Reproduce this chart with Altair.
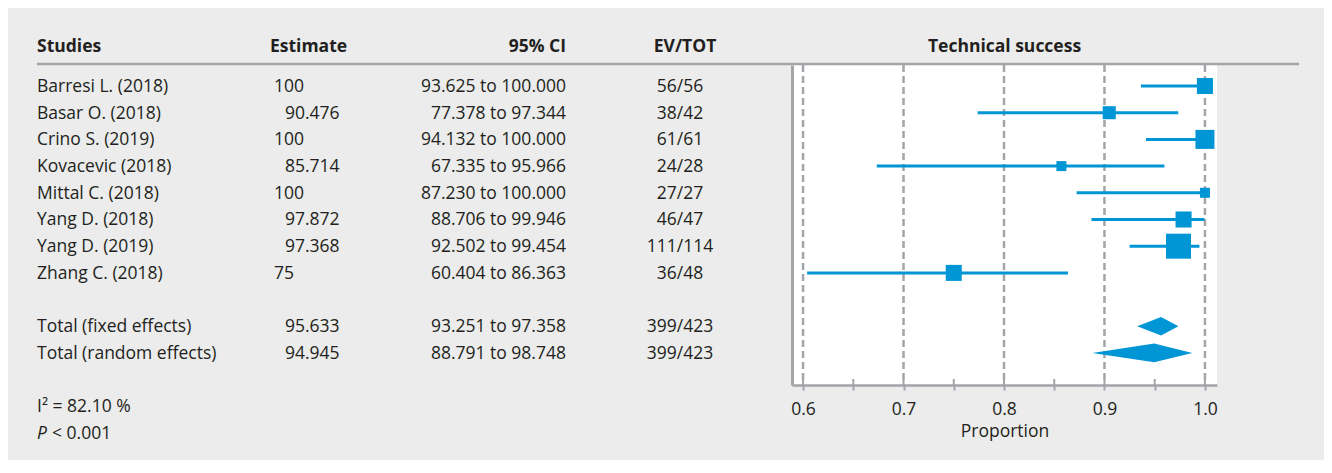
import altair as alt
import pandas as pd

# ---------------- data ----------------
studies = ["Barresi L. (2018)", "Basar O. (2018)", "Crino S. (2019)", "Kovacevic (2018)",
           "Mittal C. (2018)", "Yang D. (2018)", "Yang D. (2019)", "Zhang C. (2018)"]
estimate = [100, 90.476, 100, 85.714, 100, 97.872, 97.368, 75]
ci_low = [93.625, 77.378, 94.132, 67.335, 87.230, 88.706, 92.502, 60.404]
ci_high = [100.000, 97.344, 100.000, 95.966, 100.000, 99.946, 99.454, 86.363]
events = [56, 38, 61, 24, 27, 46, 111, 36]
totals = [56, 42, 61, 28, 27, 47, 114, 48]
weights = [12.1, 8.0, 17.0, 4.7, 4.7, 12.1, 29.4, 12.1]   # relative marker weights (%)

pooled_labels = ["Total (fixed effects)", "Total (random effects)"]
pooled_estimate = [95.633, 94.945]
pooled_low = [93.251, 88.791]
pooled_high = [97.358, 98.748]
pooled_events = [399, 399]
pooled_total = [423, 423]

heterogeneity = "I² = 82.10 %"
p_symbol = "P"
p_value = "< 0.001"

headers = ["Studies", "Estimate", "95% CI", "EV/TOT"]
plot_title = "Technical success"
axis_title = "Proportion"
grid_values = [0.6, 0.7, 0.8, 0.9, 1.0]
tick_values = [0.6, 0.65, 0.7, 0.75, 0.8, 0.85, 0.9, 0.95, 1.0]

# ---------------- styles ----------------
FONT = "Open Sans"
FS = 17.5
TXT = "#231f20"
BLUE = "#0096d6"
GRAY = "#a3a5a8"
BG = "#ebeceb"
DIAMOND_HALF = 0.35  # half height of the pooled diamonds, in row units

def fmt_est(v):
    return str(int(v)) if float(v).is_integer() else f"{v:.3f}"

n = len(studies)
study_rows = list(range(n))
pooled_rows = [n + 1 + i for i in range(len(pooled_labels))]
stat_rows = [pooled_rows[-1] + 2, pooled_rows[-1] + 3]

all_est = estimate + pooled_estimate
table = pd.DataFrame({
    "name": studies + pooled_labels,
    "est": [fmt_est(v) for v in all_est],
    "is_int": [float(v).is_integer() for v in all_est],
    "ci": [f"{lo:.3f} to {hi:.3f}" for lo, hi in zip(ci_low + pooled_low, ci_high + pooled_high)],
    "evtot": [f"{e}/{t}" for e, t in zip(events + pooled_events, totals + pooled_total)],
    "row": study_rows + pooled_rows,
})

study_df = pd.DataFrame({
    "est": [v / 100 for v in estimate],
    "lo": [v / 100 for v in ci_low],
    "hi": [v / 100 for v in ci_high],
    "w": weights,
    "row": study_rows,
})

dia = []
for lab, r, e, lo, hi in zip(pooled_labels, pooled_rows, pooled_estimate, pooled_low, pooled_high):
    dia.append({"grp": lab, "x": lo / 100, "y1": r, "y2": r})
    dia.append({"grp": lab, "x": e / 100, "y1": r - DIAMOND_HALF, "y2": r + DIAMOND_HALF})
    dia.append({"grp": lab, "x": hi / 100, "y1": r, "y2": r})
dia_df = pd.DataFrame(dia)

stats_df = pd.DataFrame({"t": [heterogeneity], "row": [stat_rows[0]]})
p_df = pd.DataFrame({"a": [p_symbol], "b": [p_value], "row": [stat_rows[1]]})

# ---------------- scales / axes ----------------
W, H = 425, 320
xscale = alt.Scale(domain=[0.589, 1.012], nice=False, zero=False)
yscale = alt.Scale(domain=[-0.787, 11.2], nice=False, zero=False, reverse=True)
xaxis = alt.Axis(
    values=tick_values,
    labelExpr="abs(datum.value*10 - round(datum.value*10)) < 0.01 ? format(datum.value, '.1f') : ''",
    tickSize=5, tickWidth=2, tickColor=GRAY,
    domainColor=GRAY, domainWidth=2.5,
    labelFont=FONT, labelFontSize=FS, labelColor=TXT, labelPadding=10, labelFlush=False,
    title=axis_title, titleFont=FONT, titleFontSize=FS, titleFontWeight="normal",
    titleColor=TXT, titlePadding=5, grid=False,
)
yaxis = alt.Axis(domain=True, domainColor=GRAY, domainWidth=3, ticks=False,
                 labels=False, grid=False, title=None)

def X(field):
    return alt.X(field, type="quantitative", scale=xscale, axis=xaxis)

def Y(field):
    return alt.Y(field, type="quantitative", scale=yscale, axis=yaxis)

one = alt.Data(values=[{"k": 1}])

# ---------------- layers ----------------
grid = alt.Chart(pd.DataFrame({"v": grid_values})).mark_rule(
    color=GRAY, strokeWidth=2.5, strokeDash=[7, 4]
).encode(x=X("v"))

inner_ticks = alt.Chart(pd.DataFrame({"v": tick_values})).mark_rule(
    color=GRAY, strokeWidth=2
).encode(x=X("v"), y=alt.value(H - 6), y2=alt.value(H))

header_line = alt.Chart(one).mark_rule(color=GRAY, strokeWidth=2.5).encode(
    x=alt.value(-755), x2=alt.value(507), y=alt.value(-1)
)

ci_rules = alt.Chart(study_df).mark_rule(color=BLUE, strokeWidth=3).encode(
    x=X("lo"), x2="hi", y=Y("row")
)

squares = alt.Chart(study_df).mark_square(color=BLUE, opacity=1, filled=True).encode(
    x=X("est"), y=Y("row"),
    size=alt.Size("w:Q", scale=alt.Scale(domain=[0, 29.4], range=[0, 625]), legend=None),
)

diamonds = alt.Chart(dia_df).mark_area(color=BLUE, opacity=1, interpolate="linear").encode(
    x=X("x"), y=Y("y1"), y2="y2", detail="grp:N"
)

def col_text(field, xpx, align, data=table, **kw):
    return alt.Chart(data).mark_text(
        align=align, baseline="middle", font=FONT, fontSize=FS, color=TXT, dy=1, **kw
    ).encode(x=alt.value(xpx), y=Y("row"), text=f"{field}:N")

t_name = col_text("name", -755, "left")
t_est_int = col_text("est", -518, "left").transform_filter("datum.is_int")
t_est_dec = col_text("est", -507, "left").transform_filter("!datum.is_int")
t_ci = col_text("ci", -226, "right")
t_ev = col_text("evtot", -112, "center")
t_i2 = col_text("t", -755, "left", data=stats_df)
t_p1 = col_text("a", -755, "left", data=p_df, fontStyle="italic")
t_p2 = col_text("b", -740, "left", data=p_df)

def header(text, xpx, align):
    return alt.Chart(one).mark_text(
        text=text, align=align, baseline="middle", font=FONT, fontSize=FS,
        fontWeight="bold", color=TXT
    ).encode(x=alt.value(xpx), y=alt.value(-18))

h1 = header(headers[0], -755, "left")
h2 = header(headers[1], -522, "left")
h3 = header(headers[2], -226, "right")
h4 = header(headers[3], -107, "center")
h5 = header(plot_title, W / 2, "center")

chart = alt.layer(
    grid, header_line, ci_rules, squares, diamonds, inner_ticks,
    t_name, t_est_int, t_est_dec, t_ci, t_ev, t_i2, t_p1, t_p2, h1, h2, h3, h4, h5,
).properties(
    width=W, height=H,
    autosize=alt.AutoSizeParams(type="none"),
    padding={"left": 784, "top": 57, "right": 107, "bottom": 75},
    background=BG,
).configure_view(fill="white", strokeWidth=0)

chart.save("out.html", embed_options={"renderer": "svg", "actions": False})
